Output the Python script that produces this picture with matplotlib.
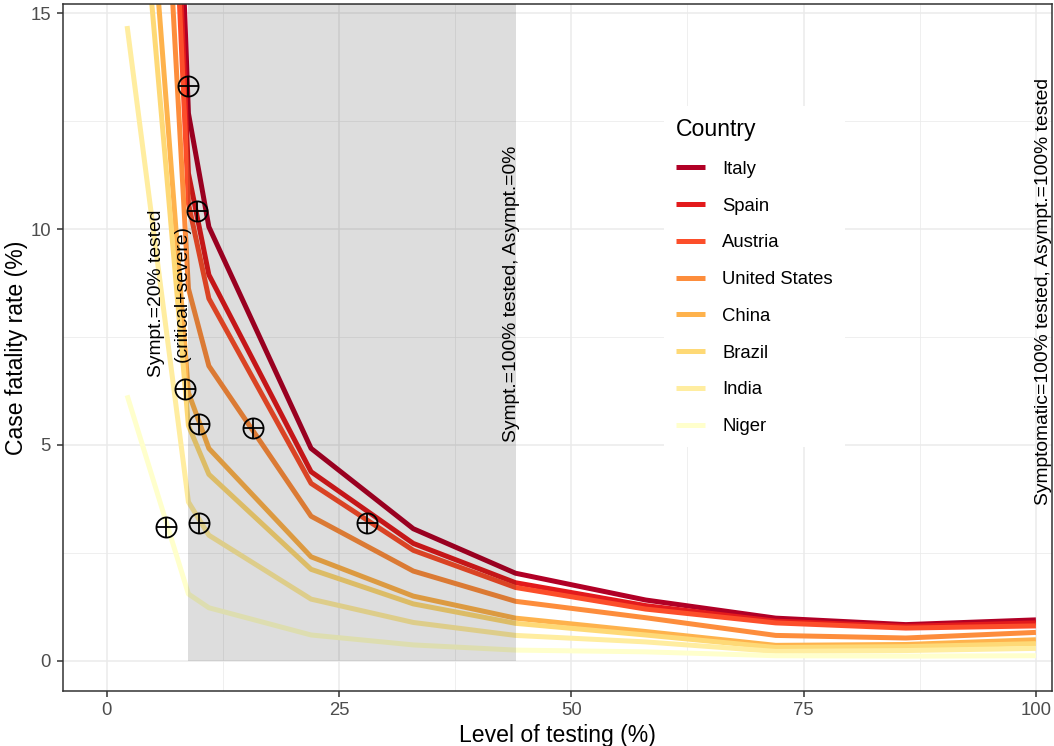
import matplotlib
matplotlib.use("Agg")
import matplotlib.pyplot as plt
from matplotlib.ticker import MultipleLocator
from matplotlib.lines import Line2D

# ---------------- data ----------------
testing_level = [2.2, 8.8, 11, 22, 33, 44, 58, 72, 86, 100]

countries = ["Italy", "Spain", "Austria", "United States", "China", "Brazil", "India", "Niger"]

cfr_italy   = [50.7, 12.68, 10.05, 4.92, 3.06, 2.03, 1.41, 0.99, 0.84, 0.95]
cfr_spain   = [45.1, 11.29, 8.94, 4.38, 2.72, 1.81, 1.28, 0.92, 0.80, 0.88]
cfr_austria = [42.3, 10.59, 8.39, 4.11, 2.56, 1.70, 1.20, 0.88, 0.76, 0.81]
cfr_us      = [34.5, 8.62, 6.83, 3.35, 2.08, 1.38, 1.00, 0.59, 0.53, 0.66]
cfr_china   = [24.8, 6.21, 4.92, 2.41, 1.50, 0.99, 0.68, 0.36, 0.38, 0.49]
cfr_brazil  = [21.8, 5.45, 4.32, 2.12, 1.32, 0.87, 0.60, 0.31, 0.33, 0.40]
cfr_india   = [14.7, 3.68, 2.91, 1.43, 0.89, 0.59, 0.44, 0.22, 0.24, 0.29]
cfr_niger   = [6.15, 1.55, 1.23, 0.60, 0.37, 0.25, 0.21, 0.12, 0.11, 0.12]

country_colors = ["#B10026", "#E31A1C", "#FC4E2A", "#FD8D3C",
                  "#FEB24C", "#FED976", "#FFEDA0", "#FFFFCC"]

# observed (reported) points
obs_x = [8.78, 9.68, 8.43, 9.96, 15.71, 6.35, 9.96, 27.98]
obs_y = [13.32, 10.41, 6.29, 5.48, 5.40, 3.09, 3.20, 3.19]

# shaded testing band
band_start = 8.8
band_end = 44

annot_texts = ["Sympt.=20% tested\n(critical+severe)",
               "Sympt.=100% tested, Asympt.=0%",
               "Symptomatic=100% tested, Asympt.=100% tested"]
annot_x = [6.75, 43.6, 100.8]
annot_y = [8.5, 8.5, 8.55]

# ---------------- figure ----------------
plt.rcParams["font.family"] = ["Liberation Sans", "DejaVu Sans"]

W, H, DPI = 1054, 746, 100
fig = plt.figure(figsize=(W / DPI, H / DPI), dpi=DPI)
ax = fig.add_axes([62.7 / W, 1 - 690.7 / H, (1051.7 - 62.7) / W, (690.7 - 4) / H])

ax.set_xlim(-4.73, 101.7)
ax.set_ylim(-0.69, 15.21)

# grid
ax.xaxis.set_major_locator(MultipleLocator(25))
ax.xaxis.set_minor_locator(MultipleLocator(12.5))
ax.yaxis.set_major_locator(MultipleLocator(5))
ax.yaxis.set_minor_locator(MultipleLocator(2.5))
ax.grid(which="major", color="#EBEBEB", linewidth=1.1, zorder=0)
ax.grid(which="minor", color="#EBEBEB", linewidth=0.55, zorder=0)
ax.set_axisbelow(True)

series = [cfr_italy, cfr_spain, cfr_austria, cfr_us, cfr_china, cfr_brazil, cfr_india, cfr_niger]
for name, vals, col in zip(countries, series, country_colors):
    ax.plot(testing_level, vals, color=col, linewidth=3.6, solid_capstyle="butt",
            solid_joinstyle="round", label=name, zorder=2)

# semi-transparent band on top of lines
ax.axvspan(band_start, band_end, ymin=(0 - (-0.69)) / (15.21 + 0.69), ymax=1,
           facecolor="black", alpha=0.135, linewidth=0, zorder=3)

# observed points: circle with plus
ax.plot(obs_x, obs_y, linestyle="none", marker="o", markersize=14.5,
        markerfacecolor="none", markeredgecolor="black", markeredgewidth=1.3, zorder=5)
ax.plot(obs_x, obs_y, linestyle="none", marker="+", markersize=14.5,
        markeredgecolor="black", markeredgewidth=1.3, zorder=5)

# annotations
for t, x, y in zip(annot_texts, annot_x, annot_y):
    ax.text(x, y, t, rotation=90, ha="center", va="center", fontsize=13.9,
            multialignment="center", linespacing=1.65, color="black", zorder=6)

# axes styling
for sp in ax.spines.values():
    sp.set_color("#333333")
    sp.set_linewidth(1.1)
ax.tick_params(which="major", length=4.4, width=1.1, color="#333333",
               labelsize=13.3, labelcolor="#4D4D4D", pad=4)
ax.tick_params(which="minor", length=0)

ax.set_xlabel("Level of testing (%)", fontsize=16.6, labelpad=3)
ax.set_ylabel("Case fatality rate (%)", fontsize=16.6, labelpad=2)

handles = [Line2D([0], [0], color=c, linewidth=3.6, solid_capstyle="butt") for c in country_colors]
leg = ax.legend(handles, countries, title="Country", loc="upper left",
                bbox_to_anchor=((664 - 62.7) / (1051.7 - 62.7), 1 - (106 - 4) / (690.7 - 4)),
                fontsize=13.3, title_fontsize=16.6, frameon=True, fancybox=False,
                facecolor="white", edgecolor="none", framealpha=1,
                handlelength=1.55, handletextpad=0.95, labelspacing=1.07,
                borderpad=0.65, borderaxespad=0)
leg._legend_box.align = "left"
leg.set_zorder(7)

fig.savefig("out.png", dpi=DPI)
